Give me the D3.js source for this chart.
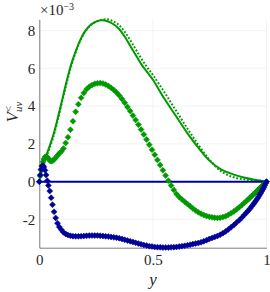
<!DOCTYPE html>
<html>
<head>
<meta charset="utf-8">
<script src="https://cdn.jsdelivr.net/npm/d3@7"></script>
<style>
  body { margin: 0; background: #fff; }
</style>
</head>
<body>
<svg width="270" height="292"></svg>
<script>
// wall-normal positions of the marker series
let yGrid = [0, 0.004, 0.008, 0.012, 0.016, 0.02, 0.025, 0.03, 0.035, 0.04, 0.046, 0.052, 0.058, 0.065, 0.072, 0.08, 0.088, 0.097,
    0.106, 0.116, 0.126, 0.137, 0.148, 0.16, 0.172, 0.184, 0.196, 0.208,
    0.22, 0.232, 0.244, 0.256, 0.268, 0.28, 0.292, 0.304, 0.316, 0.328,
    0.34, 0.352, 0.364, 0.376, 0.388, 0.4, 0.412, 0.424, 0.436, 0.448,
    0.46, 0.472, 0.484, 0.496, 0.508, 0.52, 0.532, 0.544, 0.556, 0.568,
    0.58, 0.592, 0.604, 0.616, 0.628, 0.64, 0.652, 0.664, 0.676, 0.688,
    0.7, 0.712, 0.724, 0.736, 0.748, 0.76, 0.772, 0.784, 0.796, 0.808,
    0.82, 0.832, 0.844, 0.856, 0.868, 0.88, 0.892,
    0.903, 0.912, 0.92, 0.928, 0.935, 0.942, 0.948, 0.954, 0.96, 0.965, 0.97, 0.975, 0.98, 0.984, 0.988, 0.992, 0.996, 1.0];

let greenMarks = [0, 0.3, 0.6, 0.85, 1.05, 1.2, 1.3, 1.33, 1.3, 1.22, 1.12, 1.08, 1.1, 1.17, 1.27, 1.38, 1.5, 1.6,
    1.75, 2.05, 2.35, 2.75, 3.2, 3.7, 4.1, 4.45, 4.7, 4.9,
    5.03, 5.12, 5.18, 5.21, 5.22, 5.2, 5.15, 5.07, 4.97, 4.85,
    4.72, 4.56, 4.38, 4.18, 3.96, 3.74, 3.5, 3.27, 3.02, 2.76,
    2.5, 2.23, 1.96, 1.69, 1.42, 1.15, 0.88, 0.6, 0.32, 0.05,
    -0.2, -0.44, -0.66, -0.82, -0.95, -1.07, -1.18, -1.3, -1.42, -1.53,
    -1.62, -1.7, -1.77, -1.82, -1.86, -1.89, -1.91, -1.92, -1.91, -1.88,
    -1.83, -1.76, -1.68, -1.58, -1.47, -1.36, -1.24,
    -1.12, -1.02, -0.93, -0.84, -0.76, -0.68, -0.61, -0.54, -0.47, -0.41, -0.35, -0.29, -0.23, -0.18, -0.14, -0.09, -0.05, 0];

let blueMarks = [0, 0.35, 0.65, 0.82, 0.85, 0.78, 0.6, 0.35, 0.05, -0.2, -0.5, -0.85, -1.22, -1.6, -1.92, -2.2, -2.4, -2.55,
    -2.68, -2.77, -2.83, -2.87, -2.89, -2.9, -2.9, -2.89, -2.88, -2.87,
    -2.86, -2.86, -2.86, -2.86, -2.87, -2.88, -2.9, -2.91, -2.93, -2.95,
    -2.97, -3.0, -3.04, -3.08, -3.12, -3.16, -3.2, -3.24, -3.28, -3.32,
    -3.36, -3.39, -3.42, -3.44, -3.46, -3.47, -3.48, -3.49, -3.49, -3.49,
    -3.48, -3.47, -3.46, -3.44, -3.42, -3.4, -3.37, -3.34, -3.31, -3.28,
    -3.25, -3.21, -3.16, -3.1, -3.04, -2.98, -2.93, -2.88, -2.81, -2.73,
    -2.64, -2.53, -2.42, -2.3, -2.17, -2.04, -1.9,
    -1.76, -1.64, -1.53, -1.42, -1.31, -1.2, -1.1, -1.0, -0.89, -0.8, -0.7, -0.6, -0.49, -0.4, -0.31, -0.21, -0.1, 0];

// line series (coarser grid)
let lineGrid = [0, 0.02, 0.04, 0.06, 0.08, 0.1, 0.12, 0.14, 0.16, 0.18, 0.2, 0.225, 0.25, 0.275, 0.3, 0.325, 0.35, 0.375,
    0.4, 0.425, 0.45, 0.475, 0.5, 0.55, 0.6, 0.65, 0.7, 0.75, 0.8, 0.85, 0.9, 0.95, 1];
let greenSolid = [0, 1.0, 1.7, 2.4, 3.3, 4.3, 5.3, 6.2, 6.9, 7.5, 7.95, 8.3, 8.48, 8.55, 8.5, 8.35, 8.1, 7.7,
    7.2, 6.7, 6.2, 5.8, 5.4, 4.4, 3.5, 2.6, 1.8, 1.1, 0.65, 0.4, 0.22, 0.1, 0];
let greenDotted = [0, 0.9, 1.6, 2.3, 3.2, 4.2, 5.2, 6.1, 6.85, 7.45, 7.9, 8.28, 8.48, 8.58, 8.6, 8.5, 8.3, 7.95,
    7.5, 7.0, 6.5, 6.05, 5.65, 4.75, 3.8, 2.85, 1.95, 1.15, 0.55, 0.25, 0.12, 0.05, 0];
let zeroGrid = [0, 1];
let blueSolid = [0, 0];

let xTicks = [0, 0.5, 1],
    xTickLabels = ["0", "0.5", "1"];
let yTicks = [-2, 0, 2, 4, 6, 8],
    yTickLabels = ["-2", "0", "2", "4", "6", "8"];

let green = "#009900",
    blue = "#000099",
    ink = "#262626",
    serif = "'Liberation Serif', serif";

let svg = d3.select("svg"),
    margin = {left: 39.3, right: 3.5, top: 19.3, bottom: 44.3},
    width = 270,
    height = 292;

let x = d3.scaleLinear().domain([0, 1]).range([margin.left, width - margin.right]);
let yS = d3.scaleLinear().domain([-3.5, 8.6]).range([height - margin.bottom, margin.top]);

// grid
let grid = svg.append("g").attr("class", "grid");
grid.selectAll(".gx").data(xTicks).enter().append("line")
    .attr("x1", d => x(d)).attr("x2", d => x(d))
    .attr("y1", yS.range()[0]).attr("y2", yS.range()[1])
    .attr("stroke", "#ebebeb").attr("stroke-width", 0.6);
grid.selectAll(".gy").data(yTicks).enter().append("line")
    .attr("x1", x.range()[0]).attr("x2", x.range()[1])
    .attr("y1", d => yS(d)).attr("y2", d => yS(d))
    .attr("stroke", "#ebebeb").attr("stroke-width", 0.6);

// axes
let gx = svg.append("g")
    .attr("transform", "translate(0," + yS.range()[0] + ")")
    .call(d3.axisBottom(x).tickValues(xTicks).tickSize(0).tickPadding(7).tickFormat((d, i) => xTickLabels[i]));
let gy = svg.append("g")
    .attr("transform", "translate(" + x.range()[0] + ",0)")
    .call(d3.axisLeft(yS).tickValues(yTicks).tickSize(0).tickPadding(4).tickFormat((d, i) => yTickLabels[i]));
[gx, gy].forEach(g => {
    g.select(".domain").attr("stroke", ink).attr("stroke-width", 0.6);
    g.selectAll("text").style("font-family", serif).style("font-size", "15px").attr("fill", ink);
});

let line = (xs, vs) => d3.line()
    .x(i => x(xs[i]))
    .y(i => yS(vs[i]))
    .curve(d3.curveCatmullRom)(d3.range(xs.length));

// lines
svg.append("path").attr("d", line(lineGrid, greenSolid))
    .attr("fill", "none").attr("stroke", green).attr("stroke-width", 2);
svg.append("path").attr("d", line(lineGrid, greenDotted))
    .attr("fill", "none").attr("stroke", green).attr("stroke-width", 2).attr("stroke-dasharray", "1.8,1.8");
svg.append("path").attr("d", line(zeroGrid, blueSolid))
    .attr("fill", "none").attr("stroke", blue).attr("stroke-width", 2);

// square diamond marker
let diamond = {
    draw(ctx, size) {
        let r = Math.sqrt(size / 2);
        ctx.moveTo(0, -r); ctx.lineTo(r, 0); ctx.lineTo(0, r); ctx.lineTo(-r, 0); ctx.closePath();
    }
};
let sym = d3.symbol().type(diamond).size(18);

function markers(vs, color) {
    svg.append("g").selectAll("path").data(yGrid).enter().append("path")
        .attr("d", sym)
        .attr("transform", (d, i) => "translate(" + [x(d), yS(vs[i])] + ")")
        .attr("fill", color).attr("stroke", color).attr("stroke-width", 0.5);
}
markers(greenMarks, green);
markers(blueMarks, blue);

// exponent label
let ex = svg.append("text").attr("x", 40).attr("y", 15)
    .style("font-family", serif).style("font-size", "15px").attr("fill", ink);
ex.append("tspan").text("\u00d710");
ex.append("tspan").attr("dy", -5).style("font-size", "10px").text("\u22123");

// x label
svg.append("text").attr("x", x(0.5)).attr("y", 285).attr("text-anchor", "middle")
    .style("font-family", serif).style("font-size", "17px").style("font-style", "italic")
    .attr("fill", ink).text("y");

// y label
let yl = svg.append("text").attr("transform", "translate(18,112) rotate(-90)")
    .attr("text-anchor", "middle")
    .style("font-family", serif).style("font-size", "17px").attr("fill", ink);
yl.append("tspan").style("font-style", "italic").text("V");
yl.append("tspan").attr("dy", -6).style("font-size", "11px").text("<");
yl.append("tspan").attr("dx", -6).attr("dy", 10).style("font-size", "11px").style("font-style", "italic").text("uv");
</script>
</body>
</html>
